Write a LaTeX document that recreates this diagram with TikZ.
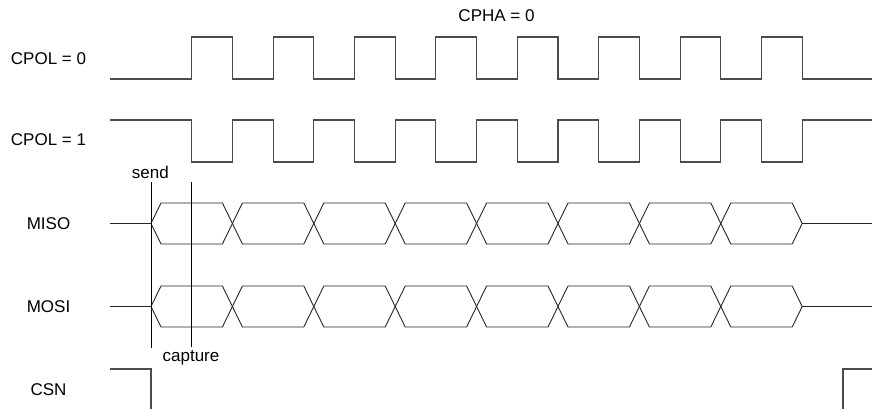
\documentclass[tikz,border=0pt]{standalone}
\usepackage{fontspec}
\setmainfont{Liberation Sans}
\begin{document}
\begin{tikzpicture}[x=1pt,y=-1pt,
	clk/.style={line width=1.1pt,black!70},
	bus/.style={line width=0.9pt,black!85},
	lbl/.style={font=\fontsize{17}{20}\selectfont,inner sep=0pt}]
	\useasboundingbox (0,0) rectangle (872,409);

	\node[lbl] (cpha) at (496.5,16) {CPHA = 0};
	\node[lbl] (cpolzero) at (48.5,59) {CPOL = 0};
	\node[lbl] (cpolone) at (48.5,140) {CPOL = 1};
	\node[lbl] (miso) at (48.5,223.5) {MISO};
	\node[lbl] (mosi) at (48.5,306.5) {MOSI};
	\node[lbl] (csn) at (48.5,390) {CSN};
	\node[lbl] (send) at (150.4,172) {send};
	\node[lbl] (capture) at (191,358) {capture};

	\draw[clk] (110,79) -- (191.7,79)
		\foreach \k in {0,...,7} { -- ++(0,-42) -- ++(40.7,0) -- ++(0,42) -- ++(40.7,0) } -- (872,79);
	\draw[clk] (110,120) -- (191.7,120)
		\foreach \k in {0,...,7} { -- ++(0,42) -- ++(40.7,0) -- ++(0,-42) -- ++(40.7,0) } -- (872,120);

	\foreach \yc in {223.5,306.5} {
		\draw[bus] (110,\yc) -- (151,\yc);
		\foreach \k in {0,...,7}
			\draw[bus] ({151+81.4*\k},\yc) -- ++(10,-20.5) -- ({141+81.4*(\k+1)},{\yc-20.5})
				-- ({151+81.4*(\k+1)},\yc) -- ++(-10,20.5) -- ({161+81.4*\k},{\yc+20.5}) -- cycle;
		\draw[bus] (802,\yc) -- (872,\yc);
	}

	\draw[line width=0.9pt] (151,182) -- (151,348);
	\draw[line width=0.9pt] (191.5,182) -- (191.5,347);

	\draw[clk] (110,369) -- (151,369) -- (151,409);
	\draw[clk] (843,409) -- (843,369) -- (872,369);

\end{tikzpicture}
\end{document}
